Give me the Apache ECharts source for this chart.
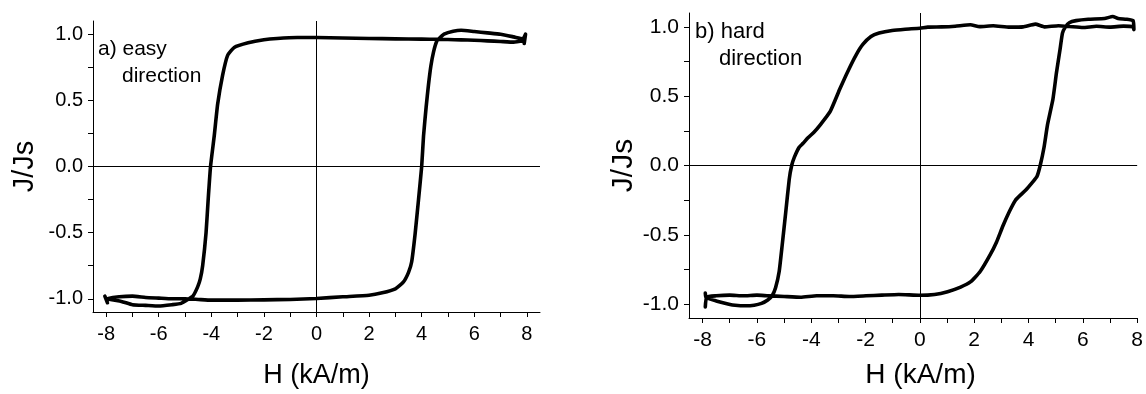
<!DOCTYPE html>
<html><head><meta charset="utf-8">
<script src="https://cdn.jsdelivr.net/npm/echarts@6/dist/echarts.min.js"></script>
<style>html,body{margin:0;padding:0;background:#fff}#c{width:1146px;height:394px}</style>
</head><body><div id="c"></div>
<script>
// ---- tick values ----
const xTicks = [-8,-7,-6,-5,-4,-3,-2,-1,0,1,2,3,4,5,6,7,8];
const xLabels = [-8,-6,-4,-2,0,2,4,6,8];
const yTicks = [-1,-0.75,-0.5,-0.25,0,0.25,0.5,0.75,1];
const yLabels = [-1,-0.5,0,0.5,1];

// ---- a) easy direction ----
const easyAscH = [-8.05,-7.95,-8.0,-7.5,-7.0,-6.5,-6.0,-5.5,-5.0,-4.5,-4.0,-3.0,-2.0,-1.0,0.0,1.0,2.0,2.5,3.0,3.3,3.5,3.62,3.75,3.88,4.0,4.07,4.17,4.26,4.35,4.45,4.58,4.7,4.85,5.2,5.5,6.0,6.5,7.0,7.5,7.85,7.95,7.9];
const easyAscJ = [-0.98,-1.03,-1.0,-0.985,-0.98,-0.99,-0.995,-1.0,-1.0,-1.005,-1.01,-1.01,-1.008,-1.005,-0.998,-0.985,-0.973,-0.955,-0.925,-0.875,-0.80,-0.72,-0.51,-0.25,0.0,0.23,0.45,0.62,0.76,0.865,0.95,0.975,1.0,1.022,1.03,1.02,1.01,1.0,0.98,0.965,1.0,0.93];
const easyDescH = [7.9,7.5,7.0,6.5,6.0,5.5,5.0,4.6,4.0,3.0,2.0,1.0,0.0,-0.73,-1.5,-2.0,-2.6,-3.13,-3.38,-3.57,-3.76,-3.89,-4.03,-4.12,-4.2,-4.33,-4.42,-4.52,-4.7,-4.85,-5.15,-5.5,-6.0,-6.5,-7.0,-7.42,-8.0];
const easyDescJ = [0.95,0.94,0.945,0.95,0.955,0.957,0.96,0.962,0.963,0.965,0.968,0.972,0.975,0.975,0.968,0.958,0.935,0.90,0.84,0.69,0.47,0.23,0.0,-0.25,-0.5,-0.75,-0.85,-0.91,-0.98,-1.0,-1.035,-1.045,-1.055,-1.05,-1.045,-1.02,-1.0];

// ---- b) hard direction ----
const hardAscH = [-7.9,-7.85,-7.5,-7.0,-6.5,-6.0,-5.59,-5.0,-4.39,-3.8,-3.19,-2.6,-1.98,-1.4,-0.78,0.0,0.54,1.02,1.5,1.86,2.22,2.58,2.82,3.06,3.3,3.52,3.72,3.91,4.15,4.31,4.43,4.57,4.70,4.9,5.03,5.16,5.25,5.36,5.5,5.75,6.2,6.8,7.1,7.3,7.6,7.85,7.88];
const hardAscJ = [-1.02,-0.95,-0.94,-0.935,-0.94,-0.935,-0.94,-0.945,-0.95,-0.94,-0.94,-0.945,-0.94,-0.935,-0.93,-0.936,-0.93,-0.91,-0.877,-0.84,-0.765,-0.647,-0.553,-0.435,-0.33,-0.25,-0.21,-0.175,-0.12,-0.08,0.0,0.13,0.295,0.48,0.67,0.837,0.955,1.0,1.03,1.045,1.055,1.06,1.075,1.06,1.055,1.045,0.98];
const hardDescH = [7.85,7.5,7.0,6.5,6.0,5.5,5.1,4.6,4.25,3.8,3.3,2.7,2.2,1.86,1.3,0.8,0.29,0.0,-0.54,-1.02,-1.5,-1.8,-2.1,-2.34,-2.64,-2.94,-3.3,-3.66,-3.9,-4.12,-4.3,-4.45,-4.62,-4.72,-4.81,-4.94,-5.07,-5.18,-5.31,-5.44,-5.6,-5.83,-6.1,-6.43,-6.8,-7.03,-7.5,-7.87,-7.9];
const hardDescJ = [1.0,1.005,0.998,1.004,0.995,1.003,1.008,1.0,1.02,1.0,0.998,1.008,1.002,1.015,1.005,1.0,0.998,0.99,0.983,0.974,0.955,0.93,0.873,0.80,0.684,0.555,0.39,0.295,0.24,0.20,0.16,0.13,0.06,0.0,-0.10,-0.34,-0.576,-0.765,-0.88,-0.94,-0.97,-0.995,-1.008,-1.012,-1.008,-1.0,-0.977,-0.953,-0.92];

const FF = '"Liberation Sans", Arial, sans-serif';
const zip = (h, j) => h.map((v, i) => [v, j[i]]);

function xAxisCfg(gi, max, fs, nfs, gap, margin, shift) {
  return {
    type: 'value', gridIndex: gi, min: -8.5, max: max,
    name: 'H (kA/m)', nameLocation: 'middle', nameGap: gap,
    nameTextStyle: { fontSize: nfs, color: '#000', fontFamily: FF, padding: [0, 0, 0, shift] },
    axisLine: { onZero: false, lineStyle: { color: '#000', width: 1 } },
    axisTick: { show: true, inside: false, length: 5, customValues: xTicks, lineStyle: { color: '#000', width: 1 } },
    axisLabel: { customValues: xLabels, fontSize: fs, color: '#000', margin: margin, fontFamily: FF, showMaxLabel: true },
    splitLine: { show: false }
  };
}
function yAxisCfg(gi, fs, nfs, gap) {
  return {
    type: 'value', gridIndex: gi, min: -1.1, max: 1.1,
    name: 'J/Js', nameLocation: 'middle', nameRotate: 90, nameGap: gap,
    nameTextStyle: { fontSize: nfs, color: '#000', fontFamily: FF },
    axisLine: { onZero: false, lineStyle: { color: '#000', width: 1 } },
    axisTick: { show: true, inside: false, length: 5, customValues: yTicks, lineStyle: { color: '#000', width: 1 } },
    axisLabel: { customValues: yLabels, fontSize: fs, color: '#000', margin: 10, fontFamily: FF,
      formatter: v => (+v).toFixed(1) },
    splitLine: { show: false }
  };
}
function loop(gi, h1, j1, h2, j2) {
  return {
    type: 'line', xAxisIndex: gi, yAxisIndex: gi,
    data: zip(h1, j1).concat(zip(h2, j2)),
    showSymbol: false, symbol: 'none', smooth: 0.15,
    lineStyle: { color: '#000', width: 3.6, join: 'round', cap: 'round' },
    markLine: {
      silent: true, symbol: ['none', 'none'], label: { show: false }, animation: false,
      lineStyle: { color: '#000', width: 1, type: 'solid' },
      data: [{ xAxis: 0 }, { yAxis: 0 }]
    }
  };
}

const chart = echarts.init(document.getElementById('c'), null, { renderer: 'canvas' });
chart.setOption({
  animation: false,
  backgroundColor: '#fff',
  grid: [
    { left: 93, top: 21, width: 447, height: 300, containLabel: false },
    { left: 689, top: 13, width: 457, height: 313, containLabel: false }
  ],
  xAxis: [xAxisCfg(0, 8.5, 20, 27, 50, 12, 0), xAxisCfg(1, 8.0, 21, 28, 43, 12, 15)],
  yAxis: [yAxisCfg(0, 20, 29, 54), yAxisCfg(1, 21, 30, 38)],
  series: [
    loop(0, easyAscH, easyAscJ, easyDescH, easyDescJ),
    loop(1, hardAscH, hardAscJ, hardDescH, hardDescJ)
  ],
  graphic: [
    { type: 'text', x: 98, y: 49, style: { text: 'a) easy', font: '21px "Liberation Sans", Arial', fill: '#000', verticalAlign: 'middle' } },
    { type: 'text', x: 122, y: 76, style: { text: 'direction', font: '21px "Liberation Sans", Arial', fill: '#000', verticalAlign: 'middle' } },
    { type: 'text', x: 695, y: 32, style: { text: 'b) hard', font: '22px "Liberation Sans", Arial', fill: '#000', verticalAlign: 'middle' } },
    { type: 'text', x: 719, y: 59, style: { text: 'direction', font: '22px "Liberation Sans", Arial', fill: '#000', verticalAlign: 'middle' } }
  ]
});
</script>
</body></html>
